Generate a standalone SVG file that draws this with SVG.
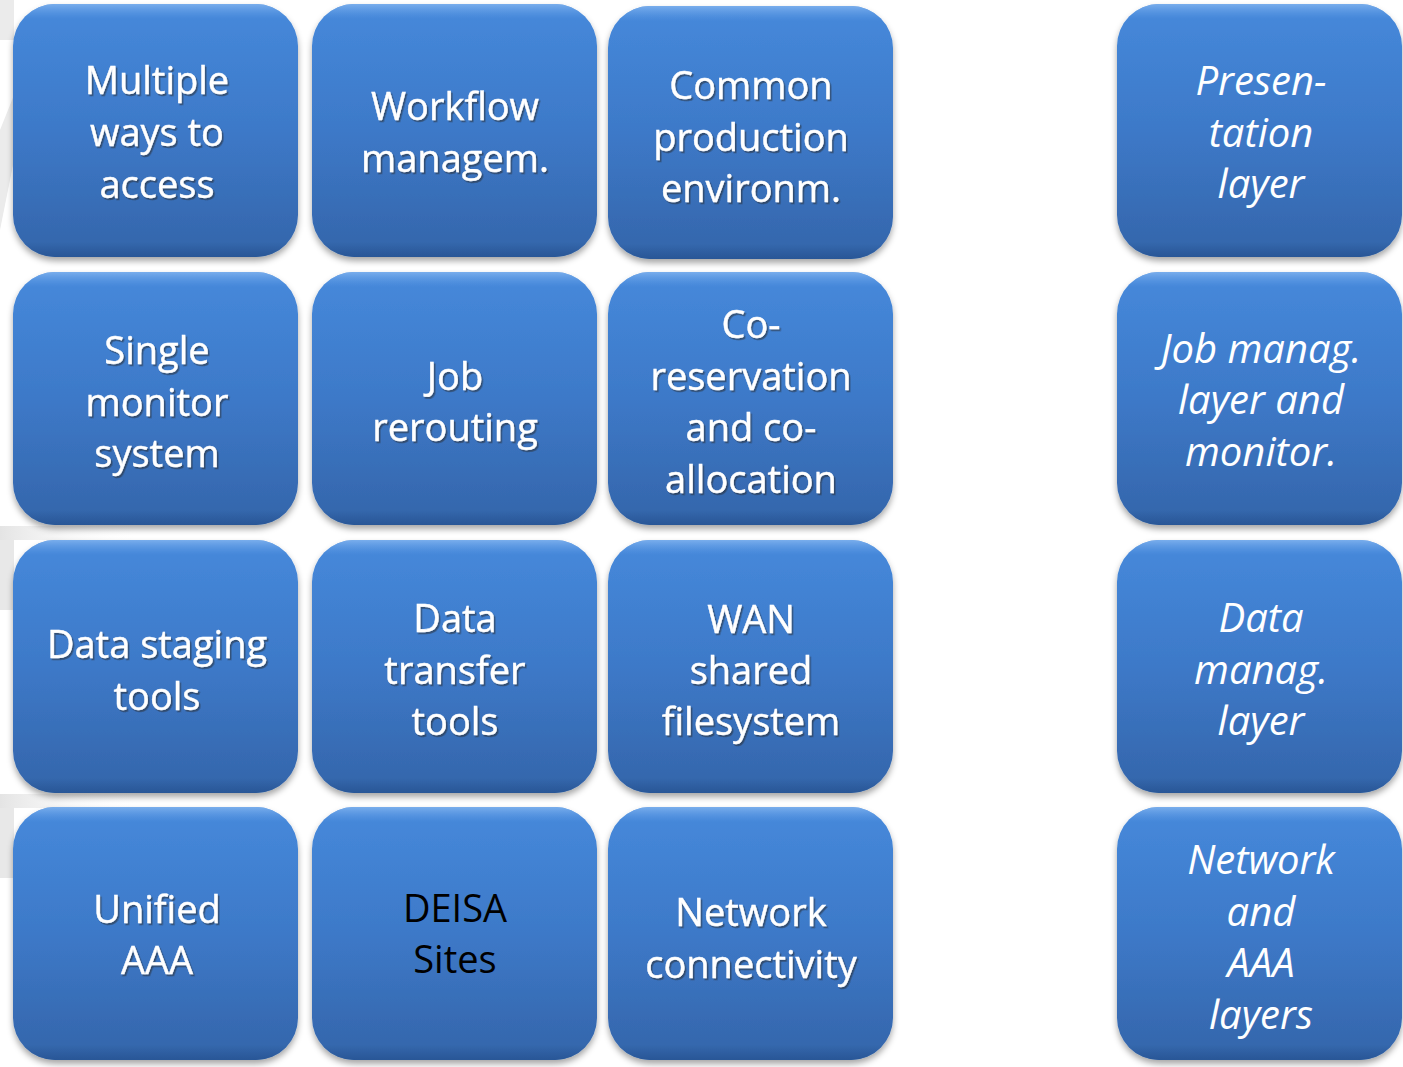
<svg xmlns="http://www.w3.org/2000/svg" width="1403" height="1067" viewBox="0 0 1403 1067">
  <defs>
    <linearGradient id="boxFill" x1="0" y1="0" x2="0" y2="1">
      <stop offset="0" stop-color="#4689db"/>
      <stop offset="0.5" stop-color="#3d79c8"/>
      <stop offset="1" stop-color="#3465aa"/>
    </linearGradient>
    <linearGradient id="rim" x1="0" y1="0" x2="0" y2="1">
      <stop offset="0" stop-color="#7fb2ee" stop-opacity="0.9"/>
      <stop offset="0.06" stop-color="#5d9ae6" stop-opacity="0"/>
      <stop offset="0.94" stop-color="#23508e" stop-opacity="0"/>
      <stop offset="1" stop-color="#23508e" stop-opacity="0.7"/>
    </linearGradient>
    <linearGradient id="band" x1="0" y1="0" x2="1" y2="0">
      <stop offset="0" stop-color="#e4e4e4"/>
      <stop offset="1" stop-color="#ffffff" stop-opacity="0"/>
    </linearGradient>
    <filter id="boxShadow" x="-10%" y="-10%" width="120%" height="125%">
      <feDropShadow dx="0" dy="4" stdDeviation="3" flood-color="#000" flood-opacity="0.35"/>
    </filter>
    <filter id="txtShadow" x="-10%" y="-20%" width="120%" height="140%">
      <feDropShadow dx="1.5" dy="1.8" stdDeviation="0.6" flood-color="#2a2a2a" flood-opacity="0.55"/>
    </filter>
    <rect id="box" width="285" height="253" rx="42" ry="42"/>
  </defs>
  <style>
    .b { fill: url(#boxFill); filter: url(#boxShadow); }
    .r { fill: url(#rim); }
    .t { font-family: "Open Sans", "Noto Sans", "Liberation Sans", sans-serif; font-size: 38px; fill: #ffffff; stroke: #ffffff; stroke-width: 0.4; text-anchor: middle; filter: url(#txtShadow); }
    .k { font-family: "Open Sans", "Noto Sans", "Liberation Sans", sans-serif; font-size: 38px; fill: #000000; text-anchor: middle; }
    .i { font-family: "Open Sans", "Noto Sans", "Liberation Sans", sans-serif; font-size: 40px; font-style: italic; fill: #ffffff; text-anchor: middle; }
  </style>

  <rect width="1403" height="1067" fill="#ffffff"/>

  <g id="watermark" fill="#ebebeb">
    <rect x="0" y="0" width="14" height="40"/>
    <polygon points="0,230 14,160 14,95 0,130"/>
    <rect x="0" y="526" width="140" height="14" fill="url(#band)"/>
    <rect x="0" y="540" width="14" height="70" fill="#e8e8e8"/>
    <rect x="0" y="794" width="140" height="14" fill="url(#band)"/>
    <rect x="0" y="808" width="14" height="70" fill="#e8e8e8"/>
  </g>

  <g id="connectors"/>

  <g id="n-multiple-access">
    <use href="#box" x="13" y="4" class="b"/><use href="#box" x="13" y="4" class="r"/>
    <text class="t" x="157"><tspan x="157" y="94">Multiple</tspan><tspan x="157" y="146">ways to</tspan><tspan x="157" y="198">access</tspan></text>
  </g>
  <g id="n-workflow">
    <use href="#box" x="312" y="4" class="b"/><use href="#box" x="312" y="4" class="r"/>
    <text class="t" x="455"><tspan x="455" y="120">Workflow</tspan><tspan x="455" y="172">managem.</tspan></text>
  </g>
  <g id="n-common-env">
    <use href="#box" x="608" y="6" class="b"/><use href="#box" x="608" y="6" class="r"/>
    <text class="t" x="751"><tspan x="751" y="99">Common</tspan><tspan x="751" y="151">production</tspan><tspan x="751" y="202">environm.</tspan></text>
  </g>
  <g id="n-presentation-layer">
    <use href="#box" x="1117" y="4" class="b"/><use href="#box" x="1117" y="4" class="r"/>
    <text class="i" x="1261"><tspan x="1261" y="95">Presen-</tspan><tspan x="1261" y="147">tation</tspan><tspan x="1261" y="198">layer</tspan></text>
  </g>

  <g id="n-single-monitor">
    <use href="#box" x="13" y="272" class="b"/><use href="#box" x="13" y="272" class="r"/>
    <text class="t" x="157"><tspan x="157" y="364">Single</tspan><tspan x="157" y="416">monitor</tspan><tspan x="157" y="467">system</tspan></text>
  </g>
  <g id="n-job-rerouting">
    <use href="#box" x="312" y="272" class="b"/><use href="#box" x="312" y="272" class="r"/>
    <text class="t" x="455"><tspan x="455" y="390">Job</tspan><tspan x="455" y="441">rerouting</tspan></text>
  </g>
  <g id="n-coreservation">
    <use href="#box" x="608" y="272" class="b"/><use href="#box" x="608" y="272" class="r"/>
    <text class="t" x="751"><tspan x="751" y="338">Co-</tspan><tspan x="751" y="390">reservation</tspan><tspan x="751" y="441">and co-</tspan><tspan x="751" y="493">allocation</tspan></text>
  </g>
  <g id="n-job-layer">
    <use href="#box" x="1117" y="272" class="b"/><use href="#box" x="1117" y="272" class="r"/>
    <text class="i" x="1261"><tspan x="1261" y="363">Job manag.</tspan><tspan x="1261" y="414">layer and</tspan><tspan x="1261" y="466">monitor.</tspan></text>
  </g>

  <g id="n-data-staging">
    <use href="#box" x="13" y="540" class="b"/><use href="#box" x="13" y="540" class="r"/>
    <text class="t" x="157"><tspan x="157" y="658">Data staging</tspan><tspan x="157" y="710">tools</tspan></text>
  </g>
  <g id="n-data-transfer">
    <use href="#box" x="312" y="540" class="b"/><use href="#box" x="312" y="540" class="r"/>
    <text class="t" x="455"><tspan x="455" y="632">Data</tspan><tspan x="455" y="684">transfer</tspan><tspan x="455" y="735">tools</tspan></text>
  </g>
  <g id="n-wan-fs">
    <use href="#box" x="608" y="540" class="b"/><use href="#box" x="608" y="540" class="r"/>
    <text class="t" x="751"><tspan x="751" y="633">WAN</tspan><tspan x="751" y="684">shared</tspan><tspan x="751" y="735">filesystem</tspan></text>
  </g>
  <g id="n-data-layer">
    <use href="#box" x="1117" y="540" class="b"/><use href="#box" x="1117" y="540" class="r"/>
    <text class="i" x="1261"><tspan x="1261" y="632">Data</tspan><tspan x="1261" y="684">manag.</tspan><tspan x="1261" y="735">layer</tspan></text>
  </g>

  <g id="n-unified-aaa">
    <use href="#box" x="13" y="807" class="b"/><use href="#box" x="13" y="807" class="r"/>
    <text class="t" x="157"><tspan x="157" y="923">Unified</tspan><tspan x="157" y="974">AAA</tspan></text>
  </g>
  <g id="n-deisa-sites">
    <use href="#box" x="312" y="807" class="b"/><use href="#box" x="312" y="807" class="r"/>
    <text class="k" x="455"><tspan x="455" y="922">DEISA</tspan><tspan x="455" y="973">Sites</tspan></text>
  </g>
  <g id="n-network-conn">
    <use href="#box" x="608" y="807" class="b"/><use href="#box" x="608" y="807" class="r"/>
    <text class="t" x="751"><tspan x="751" y="926">Network</tspan><tspan x="751" y="978">connectivity</tspan></text>
  </g>
  <g id="n-network-aaa-layers">
    <use href="#box" x="1117" y="807" class="b"/><use href="#box" x="1117" y="807" class="r"/>
    <text class="i" x="1261"><tspan x="1261" y="874">Network</tspan><tspan x="1261" y="926">and</tspan><tspan x="1261" y="977">AAA</tspan><tspan x="1261" y="1029">layers</tspan></text>
  </g>
</svg>
